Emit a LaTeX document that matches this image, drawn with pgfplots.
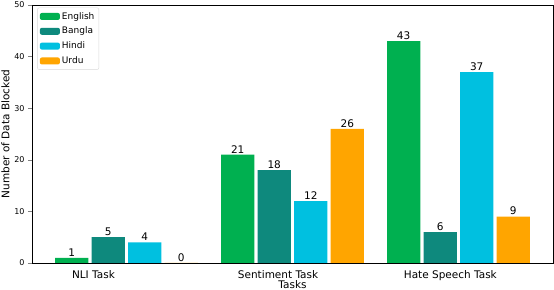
\documentclass[border=0pt]{standalone}
\usepackage{fontspec}
\setmainfont{DejaVu Sans}
\usepackage{pgfplots}
\pgfplotsset{compat=1.18}
\definecolor{cEn}{RGB}{0,176,80}
\definecolor{cBn}{RGB}{14,137,125}
\definecolor{cHi}{RGB}{0,192,224}
\definecolor{cUr}{RGB}{255,165,0}
\begin{document}
\begin{tikzpicture}
\begin{axis}[name=ax, scale only axis, width=521pt, height=258pt,
  xmin=-0.24, xmax=2.9, ymin=0, ymax=50,
  ytick={0,10,20,30,40,50},
  xtick={0,1,2}, xticklabels={NLI Task, Sentiment Task, Hate Speech Task},
  xticklabel style={anchor=north west, inner xsep=0pt, font=\fontsize{10.5}{12}\selectfont},
  major x tick style={draw=none},
  yticklabel style={font=\fontsize{8}{9}\selectfont},
  tick align=outside, major tick length=4pt,
  ytick pos=left,
  xlabel={Tasks}, ylabel={Number of Data Blocked},
  label style={font=\fontsize{10.5}{12}\selectfont},
  xlabel style={yshift=7pt},
  ylabel style={yshift=-2pt},
  ybar, bar width=0.2,
  nodes near coords,
  every node near coord/.append style={font=\fontsize{10.5}{12}\selectfont, black, yshift=-2pt},
  /pgf/number format/assume math mode=true,
  axis line style={line width=0.8pt},
  legend image code/.code={\fill[#1] (0pt,-3.5pt) rectangle (20pt,3.5pt);},
  legend style={at={(0.01,0.99)}, anchor=north west, draw=black!15, rounded corners=2pt,
    font=\fontsize{9}{10}\selectfont, row sep=2.5pt, inner sep=2.5pt},
  legend cell align=left,
]
\addplot[fill=cEn, draw=none, bar shift=0pt] coordinates {(0,1) (1,21) (2,43)};
\addplot[fill=cBn, draw=none, bar shift=0pt] coordinates {(0.22,5) (1.22,18) (2.22,6)};
\addplot[fill=cHi, draw=none, bar shift=0pt] coordinates {(0.44,4) (1.44,12) (2.44,37)};
\addplot[fill=cUr, draw=none, bar shift=0pt] coordinates {(0.66,0) (1.66,26) (2.66,9)};
\legend{English, Bangla, Hindi, Urdu}
\end{axis}
\pgfresetboundingbox
\path ([shift={(-32pt,-27pt)}]ax.south west) rectangle ([shift={(1pt,5pt)}]ax.north east);
\end{tikzpicture}
\end{document}
